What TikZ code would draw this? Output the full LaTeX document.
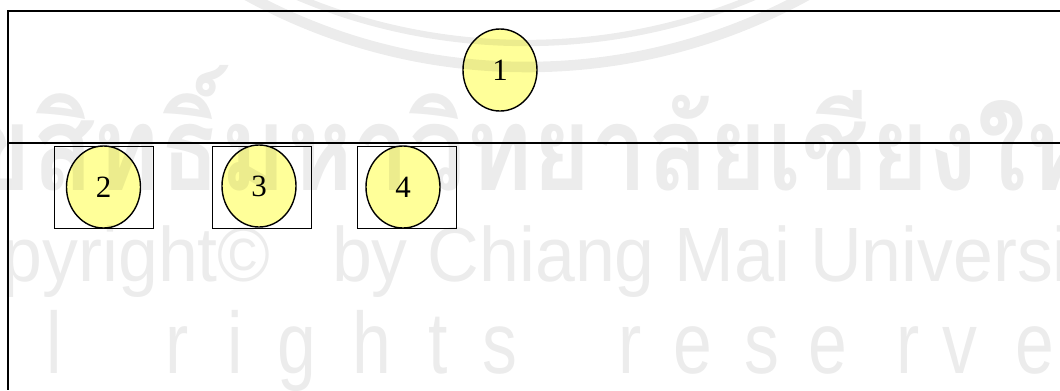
\documentclass[tikz,border=0pt]{standalone}
\usepackage{fontspec}
\setmainfont{Liberation Serif}
\newfontfamily\thaifont[Script=Thai]{Loma}
\newfontfamily\wmfont{Liberation Sans}
\usetikzlibrary{shapes.geometric}
\definecolor{paleyellow}{RGB}{255,255,153}

\begin{document}
\begin{tikzpicture}[x=0.025cm,y=-0.025cm,
    ball/.style={ellipse,draw,line width=1pt,fill=paleyellow,inner sep=0pt,
      minimum width=1.85cm,minimum height=2.05cm,font=\fontsize{22}{24}\selectfont},
    holder/.style={rectangle,draw,line width=0.7pt,minimum width=2.45cm,minimum height=2.05cm},
    frame/.style={line width=1.1pt},
    wmtext/.style={inner sep=0pt}]
  \useasboundingbox (0,0) rectangle (1060,390);

  \coordinate (tl) at (8,11);
  \coordinate (tr) at (1060,11);
  \coordinate (bl) at (8,390);
  \coordinate (ml) at (8,143);
  \coordinate (mr) at (1060,143);
  \draw[frame] (tr) -- (tl) -- (bl);
  \draw[frame] (ml) -- (mr);

  \node[ball] (b1) at (500,70) {1};
  \node[holder] (h2) at (104,187) {};
  \node[holder] (h3) at (262,187) {};
  \node[holder] (h4) at (407,187) {};
  \node[ball] (b2) at (103.5,187) {2};
  \node[ball] (b3) at (259,186) {3};
  \node[ball] (b4) at (403,187) {4};

  % watermark
  \begin{scope}[black,opacity=0.075]
    \clip (0,0) rectangle (1060,390);
    \draw[line width=7.5pt] (527,-515) circle (582);
    \draw[line width=4.5pt] (526,-546) circle (589);
    \node[wmtext,anchor=base west,font=\fontsize{84}{84}\selectfont\bfseries,xscale=0.85] (thai)
      at (-98,190) {\thaifont ลิขสิทธิ์มหาวิทยาลัยเชียงใหม่};
    \node[wmtext,anchor=base west,font=\wmfont\fontsize{54.8}{54.8}\selectfont,xscale=0.93] (copy)
      at (-89,281) {Copyright©\hspace{47pt}by Chiang Mai University};
    \foreach \ch/\px in {l/54,r/177,i/235,g/297,h/372,t/438,s/500,r/630,e/693,s/762,e/828,r/908,v/960,e/1035}
      \node[wmtext,anchor=base,font=\wmfont\fontsize{62}{62}\selectfont,xscale=0.8] at (\px,373) {\ch};
  \end{scope}
\end{tikzpicture}
\end{document}
